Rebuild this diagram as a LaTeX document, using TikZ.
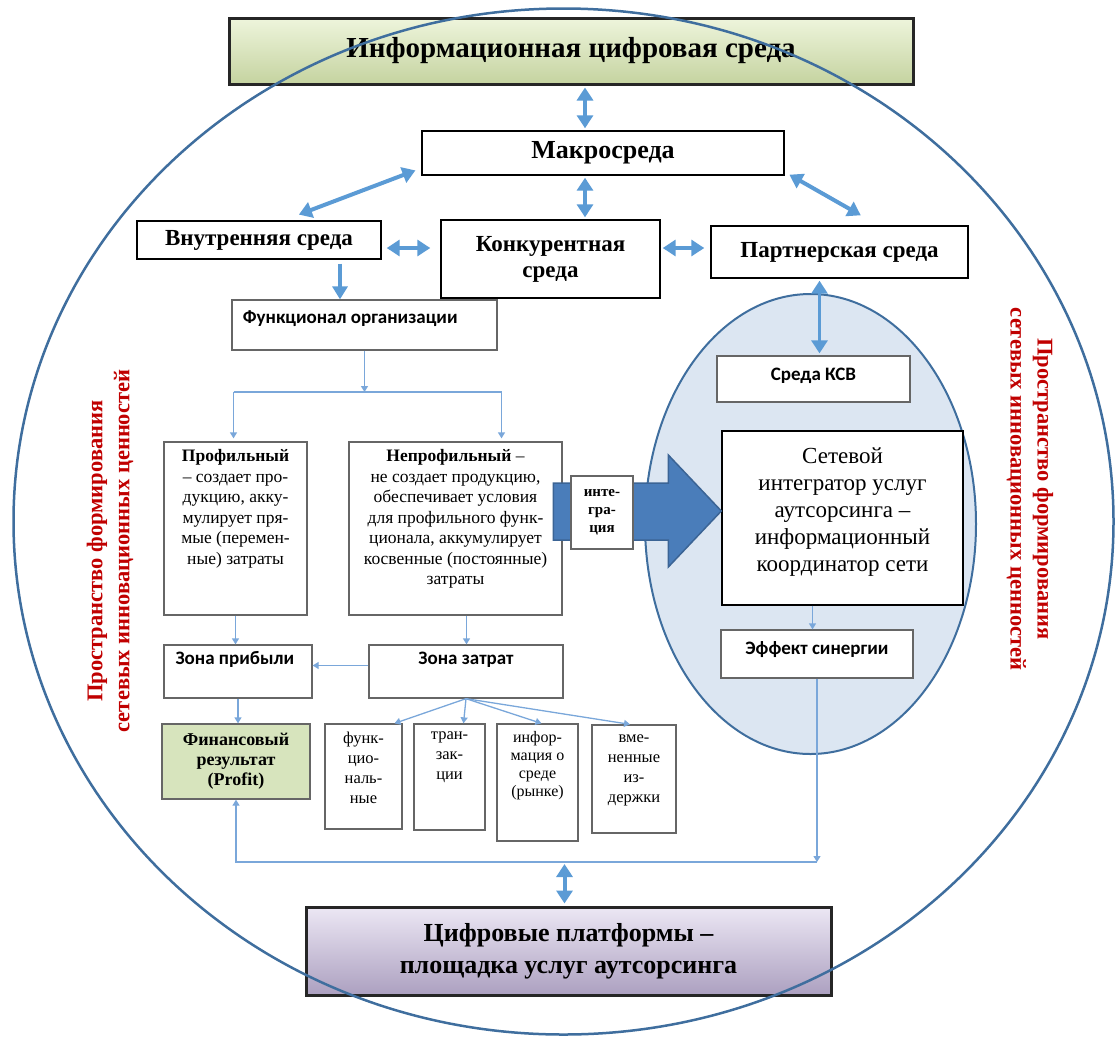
\documentclass[tikz,border=0pt]{standalone}
\usepackage{fontspec}
\setmainfont{Liberation Serif}
\newfontfamily\carlito{Carlito}
\usetikzlibrary{positioning,arrows.meta}

\definecolor{ringblue}{HTML}{3F6E9E}
\definecolor{arrblue}{HTML}{5B9BD5}
\definecolor{lineblue}{HTML}{7AA7DA}
\definecolor{ovalfill}{HTML}{DCE6F2}
\definecolor{bigblue}{HTML}{4A7DBA}
\definecolor{redtxt}{HTML}{C00000}
\definecolor{fingreen}{HTML}{D7E4BD}

\begin{document}
\begin{tikzpicture}[x=1pt,y=-1pt,
  hbox/.style={draw, line width=1.4pt, fill=white, align=center, font=\fontsize{23}{26}\selectfont\bfseries},
  gbox/.style={draw=black!60, line width=1.3pt, fill=white},
  sbox/.style={gbox, align=center, font=\carlito\fontsize{19}{19}\selectfont\bfseries},
  ptext/.style={align=center, inner sep=0pt, font=\fontsize{17.5}{20.5}\selectfont},
  smtext/.style={align=center, inner sep=0pt, font=\fontsize{16.5}{20}\selectfont},
  side/.style={align=center, text=redtxt, font=\fontsize{22.5}{27}\selectfont\bfseries},
  dbl/.style={draw=arrblue, line width=4pt, {Triangle[width=16pt,length=13pt]}-{Triangle[width=16pt,length=13pt]}, shorten <=2pt, shorten >=2pt},
  one/.style={draw=arrblue, line width=3.5pt, -{Triangle[width=15pt,length=13pt]}},
  tline/.style={draw=lineblue, line width=1.3pt},
  tarr/.style={tline, -{Triangle[width=7pt,length=6pt]}},
]
\useasboundingbox (0,0) rectangle (1116,1037);

% top and bottom levels
\node[draw=black!85, line width=3pt, top color={rgb,255:red,238;green,245;blue,220}, middle color={rgb,255:red,226;green,237;blue,197}, bottom color={rgb,255:red,197;green,211;blue,160}, minimum width=684pt, minimum height=66pt, font=\fontsize{29}{30}\selectfont\bfseries] (info) at (571,51) {Информационная цифровая среда};
\node[draw=black!85, line width=3pt, top color={rgb,255:red,236;green,231;blue,244}, middle color={rgb,255:red,220;green,212;blue,234}, bottom color={rgb,255:red,172;green,160;blue,192}, minimum width=525pt, minimum height=88pt, align=center, font=\fontsize{26}{32}\selectfont\bfseries] (cifr) at (568.5,951) {Цифровые платформы –\\площадка услуг аутсорсинга};

% space
\draw[ringblue, line width=2.5pt] (563.5,521.5) ellipse [x radius=550pt, y radius=513pt];
\draw[ringblue, line width=2pt, fill=ovalfill] (810.5,524) ellipse [x radius=165.5pt, y radius=230pt];

\node[side, rotate=90] (lside) at (110,551) {Пространство формирования\\сетевых инновационных ценностей};
\node[side, rotate=-90] (rside) at (1030,489) {Пространство формирования\\сетевых инновационных ценностей};

% environments
\node[hbox, minimum width=362pt, minimum height=44pt, font=\fontsize{26}{28}\selectfont\bfseries] (macro) at (603,153) {Макросреда};
\node[hbox, minimum width=244pt, minimum height=38pt] (vnut) at (259,240) {Внутренняя среда};
\node[hbox, minimum width=219pt, minimum height=78pt] (konk) at (550.5,259) {Конкурентная\\среда};
\node[hbox, minimum width=257pt, minimum height=52pt] (partn) at (839.5,252) {Партнерская среда};

% organisation
\node[gbox, minimum width=265pt, minimum height=50pt] (func) at (364.5,325) {};
\node[anchor=west, font=\carlito\fontsize{19}{20}\selectfont\bfseries] (funct) at ([xshift=8pt,yshift=6pt]func.west) {Функционал организации};

\node[gbox, minimum width=143pt, minimum height=173pt] (prof) at (235.5,528.5) {};
\node[ptext, below=8pt of prof.north] (proft) {\textbf{Профильный}\\– создает про-\\дукцию, акку-\\мулирует пря-\\мые (перемен-\\ные) затраты};
\node[gbox, minimum width=213pt, minimum height=173pt] (neprof) at (455.5,528.5) {};
\node[ptext, below=8pt of neprof.north] (neproft) {\textbf{Непрофильный} –\\не создает продукцию,\\обеспечивает условия\\для профильного функ-\\ционала, аккумулирует\\косвенные (постоянные)\\затраты};

\node[draw=black, line width=1.4pt, fill=white, minimum width=241pt, minimum height=174pt, align=center, font=\fontsize{23}{27}\selectfont] (seti) at (842.5,518) {Сетевой\\интегратор услуг\\аутсорсинга –\\информационный\\координатор сети\\[-11pt]};

% integration arrow
\filldraw[fill=bigblue, draw=bigblue!80!black, line width=1.5pt] ([yshift=7pt]seti.west) -- ++(-53,-56) -- ++(0,28) -- ++(-115,0) -- ++(0,57) -- ++(115,0) -- ++(0,27) -- cycle;
\node[gbox, minimum width=62pt, minimum height=73pt, align=center, font=\fontsize{15}{18}\selectfont\bfseries] (integ) at (602,512.5) {инте-\\гра-\\ция};

\node[sbox, minimum width=193pt, minimum height=46pt] (ksv) at (813.5,379) {Среда КСВ\\[-9pt]};
\node[sbox, minimum width=192pt, minimum height=48pt] (eff) at (817,654) {Эффект синергии\\[-7pt]};

% zones
\node[gbox, minimum width=148pt, minimum height=53pt] (zprib) at (238,671.5) {};
\node[anchor=north west, inner sep=0pt, font=\carlito\fontsize{19}{19}\selectfont\bfseries] (zpribt) at ([shift={(12,7)}]zprib.north west) {Зона прибыли};
\node[gbox, minimum width=194pt, minimum height=53pt] (zzat) at (466,671.5) {};
\node[inner sep=0pt, below=7pt of zzat.north, font=\carlito\fontsize{19}{19}\selectfont\bfseries] (zzatt) {Зона затрат};

\node[draw=black!60, line width=1.3pt, fill=fingreen, minimum width=148pt, minimum height=75pt, align=center, font=\fontsize{18}{20}\selectfont\bfseries] (fin) at (236,761.5) {Финансовый\\результат\\(Profit)};

\node[gbox, minimum width=77pt, minimum height=105pt] (s1) at (363.5,776.5) {};
\node[smtext, below=8pt of s1.north] (s1t) {функ-\\цио-\\наль-\\ные};
\node[gbox, minimum width=71pt, minimum height=106pt] (s2) at (449.5,777) {};
\node[smtext, below=8pt of s2.north] (s2t) {тран-\\зак-\\ции};
\node[gbox, minimum width=81pt, minimum height=117pt] (s3) at (537.5,782.5) {};
\node[smtext, below=8pt of s3.north, font=\fontsize{16}{18}\selectfont] (s3t) {инфор-\\мация о\\среде\\(рынке)};
\node[gbox, minimum width=84pt, minimum height=108pt] (s4) at (634,779) {};
\node[smtext, below=10pt of s4.north] (s4t) {вме-\\ненные\\из-\\держки};

% thick connectors
\draw[dbl] ([xshift=-18pt]macro.north) -- ([xshift=-18pt]macro.north |- info.south);
\draw[dbl] ([shift={(-4,-6)}]macro.south west) -- ([shift={(38,-5)}]vnut.north);
\draw[dbl] ([xshift=-18pt]macro.south) -- ([xshift=-18pt]macro.south |- konk.north);
\draw[dbl] ([shift={(3,-2)}]macro.south east) -- ([shift={(23,-9)}]partn.north);
\draw[dbl, shorten <=5pt, shorten >=10pt] ([yshift=-8pt]vnut.east) -- ([yshift=-8pt]vnut.east -| konk.west);
\draw[dbl, shorten >=6pt] ([yshift=11pt]konk.east) -- ([yshift=11pt]konk.east -| partn.west);
\draw[one, shorten <=4pt] ([xshift=81pt]vnut.south) -- ([xshift=81pt]vnut.south |- func.north);
\draw[dbl, line width=3pt] ([xshift=-20pt]partn.south) -- ([xshift=-20pt]partn.south |- ksv.north);

% thin connectors
\coordinate (sp) at (364.5,392);
\coordinate (bl) at (564,862);
\draw[tarr] (func.south) -- (sp);
\draw[tline] ([xshift=-2pt]sp -| prof.north) -- ([xshift=46pt]neprof.north |- sp);
\draw[tarr, shorten >=3pt] ([xshift=-2pt]sp -| prof.north) -- ([xshift=-2pt]prof.north);
\draw[tarr, shorten >=3pt] ([xshift=46pt]neprof.north |- sp) -- ([xshift=46pt]neprof.north);
\draw[tarr] (prof.south) -- (prof.south |- zprib.north);
\draw[tarr] ([xshift=11pt]neprof.south) -- ([xshift=11pt]neprof.south |- zzat.north);
\draw[tarr] ([yshift=6pt]zzat.west) -- ([yshift=6pt]zzat.west -| zprib.east);
\draw[tarr] (zprib.south) -- (zprib.south |- fin.north);
\draw[tarr] (zzat.south) -- ([xshift=31pt]s1.north);
\draw[tarr] (zzat.south) -- ([xshift=14pt]s2.north);
\draw[tarr] (zzat.south) -- ([xshift=4pt]s3.north);
\draw[tarr] (zzat.south) -- ([xshift=-4pt]s4.north);
\draw[tarr] ([xshift=-30pt]seti.south) -- ([xshift=-30pt]seti.south |- eff.north);
\draw[tarr] (eff.south) -- (eff.south |- bl);
\draw[tarr] (eff.south |- bl) -- (fin.south |- bl) -- (fin.south);
\draw[dbl] ([xshift=-4pt]cifr.north |- bl) -- ([xshift=-4pt]cifr.north);
\end{tikzpicture}
\end{document}
